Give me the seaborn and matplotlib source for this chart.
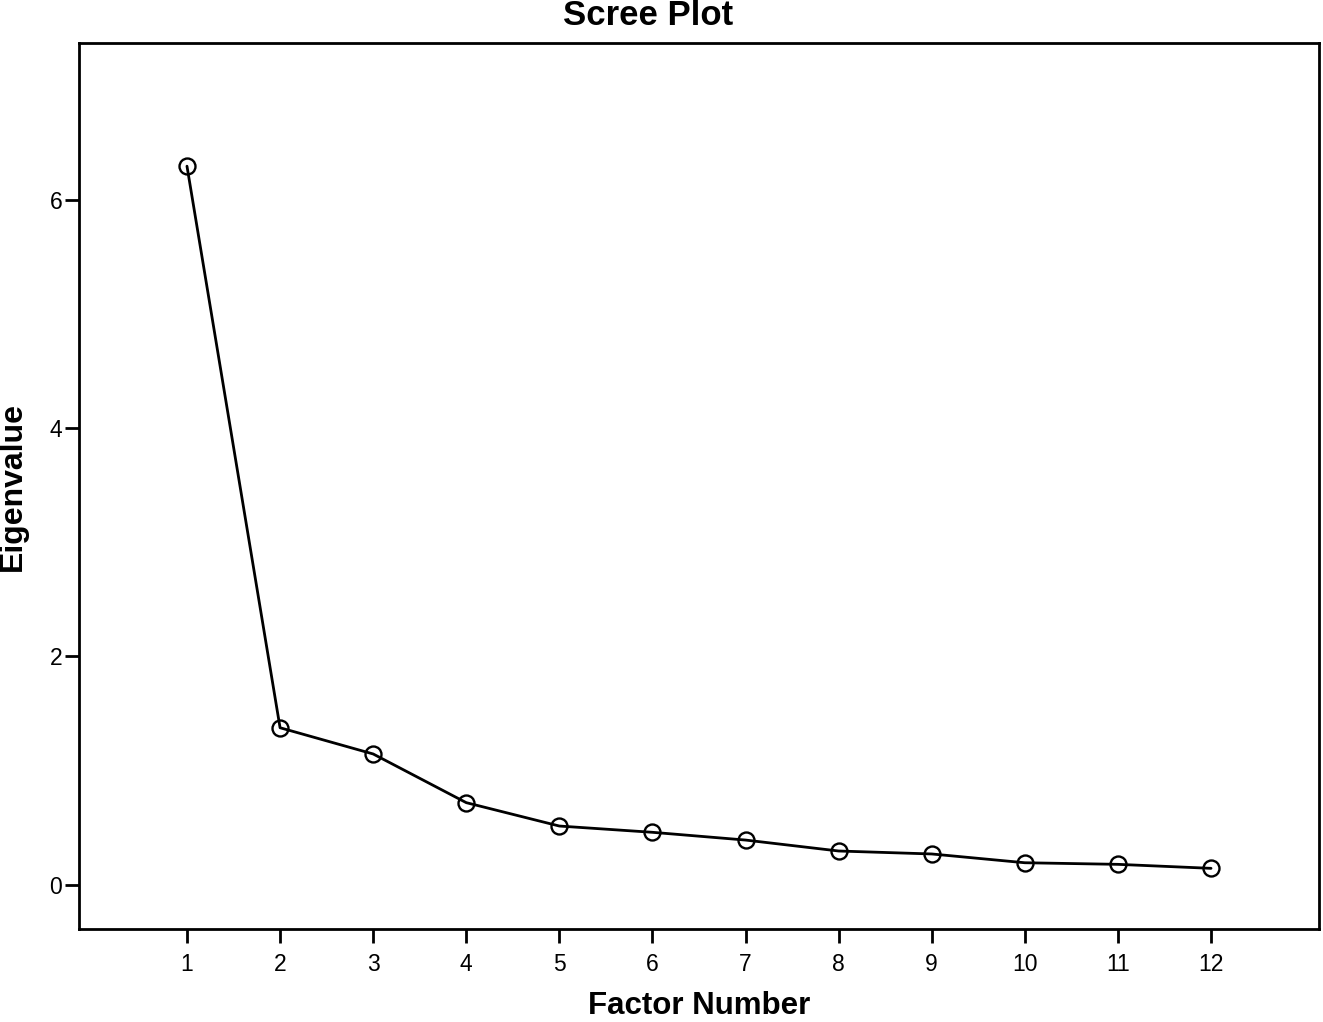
import matplotlib
matplotlib.use("Agg")
import matplotlib.pyplot as plt
import seaborn as sns
import pandas as pd

factor_number = [1, 2, 3, 4, 5, 6, 7, 8, 9, 10, 11, 12]
eigenvalue = [6.30, 1.375, 1.145, 0.718, 0.513, 0.458, 0.39, 0.294, 0.268, 0.191, 0.177, 0.142]
y_ticks = [0, 2, 4, 6]

sns.set_theme(style="white")
plt.rcParams['font.family'] = ['Liberation Sans', 'DejaVu Sans']

df = pd.DataFrame({"Factor Number": factor_number, "Eigenvalue": eigenvalue})

fig = plt.figure(figsize=(13.23, 10.22), dpi=100)
ax = fig.add_axes([0.0597, 0.0910, 0.9373, 0.8669])

sns.lineplot(data=df, x="Factor Number", y="Eigenvalue", ax=ax, color="black",
             linewidth=2.0, marker="o", markersize=11.5, markerfacecolor="none",
             markeredgecolor="black", markeredgewidth=1.7)

ax.set_xlim(-0.16, 13.16)
ax.set_ylim(-0.39, 7.38)
ax.set_xticks(factor_number)
ax.set_xticklabels([str(v) for v in factor_number])
ax.set_yticks(y_ticks)
ax.set_yticklabels([str(v) for v in y_ticks])

for s in ax.spines.values():
    s.set_visible(True)
    s.set_color("black")
    s.set_linewidth(2.0)

ax.tick_params(axis="both", which="major", direction="out", length=10, width=2.0,
               color="black", labelsize=16.5, labelcolor="black")
ax.tick_params(axis="x", pad=7)
ax.tick_params(axis="y", pad=2)
ax.tick_params(bottom=True, left=True)

ax.set_xlabel("Factor Number", fontsize=22.5, fontweight="bold", color="black")
ax.set_ylabel("Eigenvalue", fontsize=23, fontweight="bold", color="black")
ax.xaxis.label.set_va("baseline")
ax.xaxis.set_label_coords(0.5, -0.096)
ax.yaxis.set_label_coords(-0.041, 0.5)

fig.text(648 / 1323, 1 - 25 / 1022, "Scree Plot", ha="center", va="baseline",
         fontsize=25, fontweight="bold", color="black")

fig.savefig("out.png", dpi=100, facecolor="white")
